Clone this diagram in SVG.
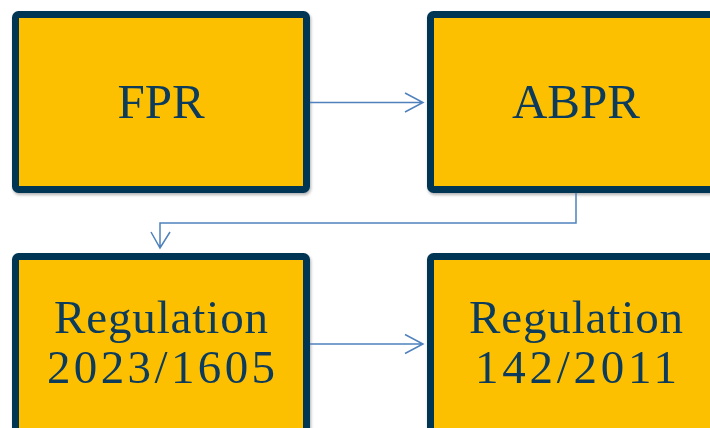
<svg xmlns="http://www.w3.org/2000/svg" width="710" height="428" viewBox="0 0 710 428">
<style>
.box{fill:#FCC006;stroke:#003553;stroke-width:7}
.t{font-family:"Liberation Serif","DejaVu Serif",serif;fill:#0B3A5B;text-anchor:middle}
.big{font-size:49px}
.mid{font-size:47px}
.c{fill:none;stroke:#4F81BD;stroke-width:1.5}
</style>
<defs>
<filter id="sh" x="-5%" y="-5%" width="110%" height="115%">
<feDropShadow dx="1" dy="2" stdDeviation="1.5" flood-color="#000" flood-opacity="0.3"/>
</filter>
</defs>
<g id="n-fpr" filter="url(#sh)">
<rect class="box" x="15.5" y="14.5" width="291" height="175" rx="3"/>
<text class="t big" x="161" y="118">FPR</text>
</g>
<g id="n-abpr" filter="url(#sh)">
<rect class="box" x="430.5" y="14.5" width="291" height="175" rx="3"/>
<text class="t big" x="576" y="118">ABPR</text>
</g>
<g id="n-reg2023" filter="url(#sh)">
<rect class="box" x="15.5" y="256.5" width="291" height="175" rx="3"/>
<text class="t mid" x="161" y="333" textLength="214" lengthAdjust="spacing">Regulation</text>
<text class="t mid" x="161" y="383" textLength="228" lengthAdjust="spacing">2023/1605</text>
</g>
<g id="n-reg142" filter="url(#sh)">
<rect class="box" x="430.5" y="256.5" width="291" height="175" rx="3"/>
<text class="t mid" x="576" y="333" textLength="214" lengthAdjust="spacing">Regulation</text>
<text class="t mid" x="576" y="383" textLength="202" lengthAdjust="spacing">142/2011</text>
</g>
<g id="connectors">
<path class="c" d="M310 102.5H423M405 93L423 102.5L405 112"/>
<path class="c" d="M576 193V223H160V248M151 232L160 248L170 232"/>
<path class="c" d="M310 344H423M405 334.5L423 344L405 353.5"/>
</g>
</svg>
